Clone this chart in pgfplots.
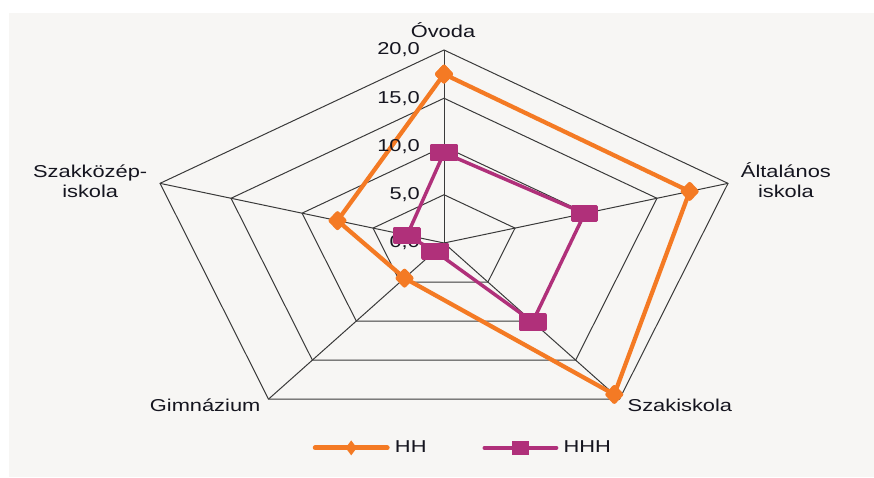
\documentclass[border=0pt]{standalone}
\usepackage{pgfplots}
\pgfplotsset{compat=1.18}
\usepackage{pgfplotstable}
\usepackage{fontspec}
\setmainfont{Liberation Sans}[FakeStretch=1.27]

\definecolor{hhcol}{HTML}{F47A24}
\definecolor{hhhcol}{HTML}{B0307A}
\definecolor{bggray}{HTML}{F7F6F4}
\definecolor{gridc}{HTML}{3A3A3A}
\definecolor{txt}{HTML}{15151F}

\pgfplotstableread{
a HH HHH
90 17.5 9.35
18 17.3 9.9
-54 19.4 10.1
-126 4.5 1.05
162 7.5 2.6
90 17.5 9.35
}\radar

\pgfplotsset{legend image code/.code={\draw[mark repeat=2,mark phase=2,#1] plot coordinates {(0cm,0cm) (0.95cm,0cm) (1.9cm,0cm)};}}

\begin{document}
\fontsize{12.9}{15}\selectfont
\begin{tikzpicture}
\begin{axis}[
  set layers=standard,
  scale only axis, width=655.5pt, height=358.5pt,
  xmin=-29.74, xmax=28.80, ymin=-24.35, ymax=25.18,
  hide axis, clip=false,
  legend columns=2,
  legend style={at={(0.53,0.063)}, anchor=center, draw=none, fill=none,
    font=\fontsize{12.9}{15}\selectfont, text=txt,
    /tikz/every even column/.append style={column sep=40pt},
    /tikz/every odd column/.append style={column sep=2pt}},
]
\fill[white, on layer=axis background] (rel axis cs:0,0) rectangle (rel axis cs:1,1);
\fill[bggray, on layer=axis background] (rel axis cs:0.0103,0.0021) rectangle (rel axis cs:1,0.9728);
\pgfplotsinvokeforeach{5,10,15,20}{
  \draw[gridc, line width=0.75pt, on layer=axis grid]
    (axis cs:{#1*cos(90)},{#1*sin(90)}) --
    (axis cs:{#1*cos(18)},{#1*sin(18)}) --
    (axis cs:{#1*cos(-54)},{#1*sin(-54)}) --
    (axis cs:{#1*cos(-126)},{#1*sin(-126)}) --
    (axis cs:{#1*cos(162)},{#1*sin(162)}) -- cycle;
}
\pgfplotsinvokeforeach{90,18,-54,-126,162}{
  \draw[gridc, line width=0.75pt, on layer=axis grid] (axis cs:0,0) -- (axis cs:{20*cos(#1)},{20*sin(#1)});
}
\addplot[forget plot, hhcol, line width=3.2pt, line join=round, mark=diamond*, mark size=5.5pt,
  mark options={solid, xscale=1.25}]
  table[x expr={\thisrow{HH}*cos(\thisrow{a})}, y expr={\thisrow{HH}*sin(\thisrow{a})}] {\radar};
\addplot[forget plot, hhhcol, line width=2.6pt, line join=round, mark=square*, mark size=5.2pt,
  mark options={solid, xscale=1.75}]
  table[x expr={\thisrow{HHH}*cos(\thisrow{a})}, y expr={\thisrow{HHH}*sin(\thisrow{a})}] {\radar};
\addlegendimage{hhcol, line width=3.6pt, line cap=round, mark=diamond*, mark size=2.6pt, mark options={solid}}
\addlegendentry{HH}
\addlegendimage{hhhcol, line width=2.8pt, line cap=round, mark=square*, mark size=3.6pt, mark options={solid, xscale=1.3}}
\addlegendentry{HHH}
\pgfplotsinvokeforeach{0,5,10,15,20}{
  \node[anchor=east, text=txt, inner sep=0pt, on layer=axis foreground] at (axis cs:-1.6,#1) {\pgfmathparse{int(#1)}\pgfmathresult,0};
}
\node[text=txt] at (axis cs:-0.07,22.07) {Óvoda};
\node[text=txt, align=center, inner sep=0pt] at (axis cs:22.9,6.53) {Általános\\iskola};
\node[text=txt, align=center, inner sep=0pt] at (axis cs:-23.7,6.42) {Szakközép-\\iskola};
\node[text=txt] at (axis cs:15.8,-16.8) {Szakiskola};
\node[text=txt] at (axis cs:-16.0,-16.8) {Gimnázium};
\end{axis}
\end{tikzpicture}
\end{document}
